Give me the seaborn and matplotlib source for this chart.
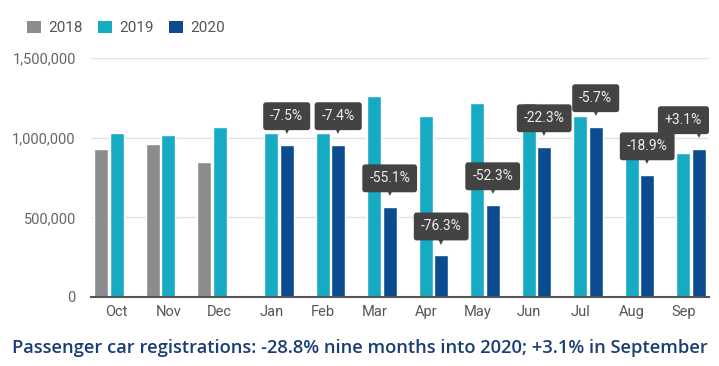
import numpy as np
import pandas as pd
import matplotlib
matplotlib.use("Agg")
import matplotlib.pyplot as plt
from matplotlib.patches import Patch
import seaborn as sns

months = ["Oct", "Nov", "Dec", "Jan", "Feb", "Mar", "Apr", "May", "Jun", "Jul", "Aug", "Sep"]
years = ["2018", "2019", "2020"]
v2018 = [931000, 962000, 849000, None, None, None, None, None, None, None, None, None]
v2019 = [1031000, 1019000, 1069000, 1031000, 1031000, 1264000, 1138000, 1220000, 1220000, 1138000, 946000, 906000]
v2020 = [None, None, None, 956000, 956000, 566000, 264000, 579000, 943000, 1069000, 767000, 931000]
changes = [None, None, None, "-7.5%", "-7.4%", "-55.1%", "-76.3%", "-52.3%", "-22.3%", "-5.7%", "-18.9%", "+3.1%"]
yticks = [0, 500000, 1000000, 1500000]
title = "Passenger car registrations: -28.8% nine months into 2020; +3.1% in September"

colors = {"2018": "#8b8c8e", "2019": "#17abc3", "2020": "#0b4b8f"}

rows = []
for yr, vals in zip(years, [v2018, v2019, v2020]):
    for m, v in zip(months, vals):
        if v is not None:
            rows.append({"month": m, "year": yr, "value": v})
df = pd.DataFrame(rows)

sns.set_theme(style="white")
plt.rcParams["font.family"] = ["Roboto", "DejaVu Sans"]

fig = plt.figure(figsize=(7.19, 3.66), dpi=100)
ax = fig.add_axes([91/719, 1-297/366, (709-91)/719, (297-58)/366])

sns.barplot(data=df, x="month", y="value", hue="year", order=months, hue_order=years,
            palette=colors, width=0.9, gap=0.1, ax=ax, legend=False, saturation=1,
            errorbar=None)

ax.set_ylim(0, 1500000)
ax.set_xlim(-0.5, len(months) - 0.5)
ax.set_yticks(yticks)
ax.set_yticklabels([f"{t:,}" for t in yticks], color="#666666", fontsize=10.5)
ax.tick_params(axis="x", colors="#555555", labelsize=10.5, length=0, pad=6)
ax.tick_params(axis="y", length=0, pad=11)
ax.set_xlabel("")
ax.set_ylabel("")
ax.yaxis.grid(True, color="#e3e3e3", linewidth=1)
ax.set_axisbelow(True)
for s in ["top", "right", "left"]:
    ax.spines[s].set_visible(False)
ax.spines["bottom"].set_color("#555555")
ax.spines["bottom"].set_linewidth(1.5)

# callouts over the 2020 bars
cont2020 = ax.containers[2]
box_color = "#434343"
bars2020 = [b for b in cont2020]
month20 = [m for m, v in zip(months, v2020) if v is not None]
texts = []
for bar, m in zip(bars2020, month20):
    lab = changes[months.index(m)]
    x = bar.get_x() + bar.get_width() / 2
    top = bar.get_height()
    t = ax.annotate(lab, xy=(x, top), xytext=(0, 20.5), textcoords="offset points",
                    ha="center", va="center", color="#eeeeee", fontsize=10,
                    bbox=dict(boxstyle="round,pad=0.5,rounding_size=0.2", fc=box_color, ec="none"),
                    annotation_clip=False, zorder=5)
    texts.append(t)
    ax.annotate("\u25BC", xy=(x, top), xytext=(0, 10.0), textcoords="offset points",
                ha="center", va="center", color=box_color, fontsize=5.5,
                family="DejaVu Sans", annotation_clip=False, zorder=5)

# keep callout boxes inside the figure
fig.canvas.draw()
fig_w = fig.bbox.width
for t in texts:
    ext = t.get_bbox_patch().get_window_extent()
    limit = fig_w - 10
    if ext.x1 > limit:
        shift_px = ext.x1 - limit
        t.xyann = (t.xyann[0] - shift_px * 72 / fig.dpi, t.xyann[1])

handles = [Patch(facecolor=colors[y], edgecolor="none", label=y) for y in years]
fig.legend(handles=handles, loc="upper left", bbox_to_anchor=(13/719, 1-7/366), ncol=3,
           frameon=False, handlelength=0.9, handleheight=0.9, handletextpad=0.5,
           columnspacing=1.0, fontsize=11, labelcolor="#555555")

fig.text(0.5, 1-348/366, title, ha="center", va="center", color="#1b3d76",
         fontsize=13.2, fontweight="semibold", family=["Open Sans", "DejaVu Sans"])

fig.savefig("out.png", dpi=100)
